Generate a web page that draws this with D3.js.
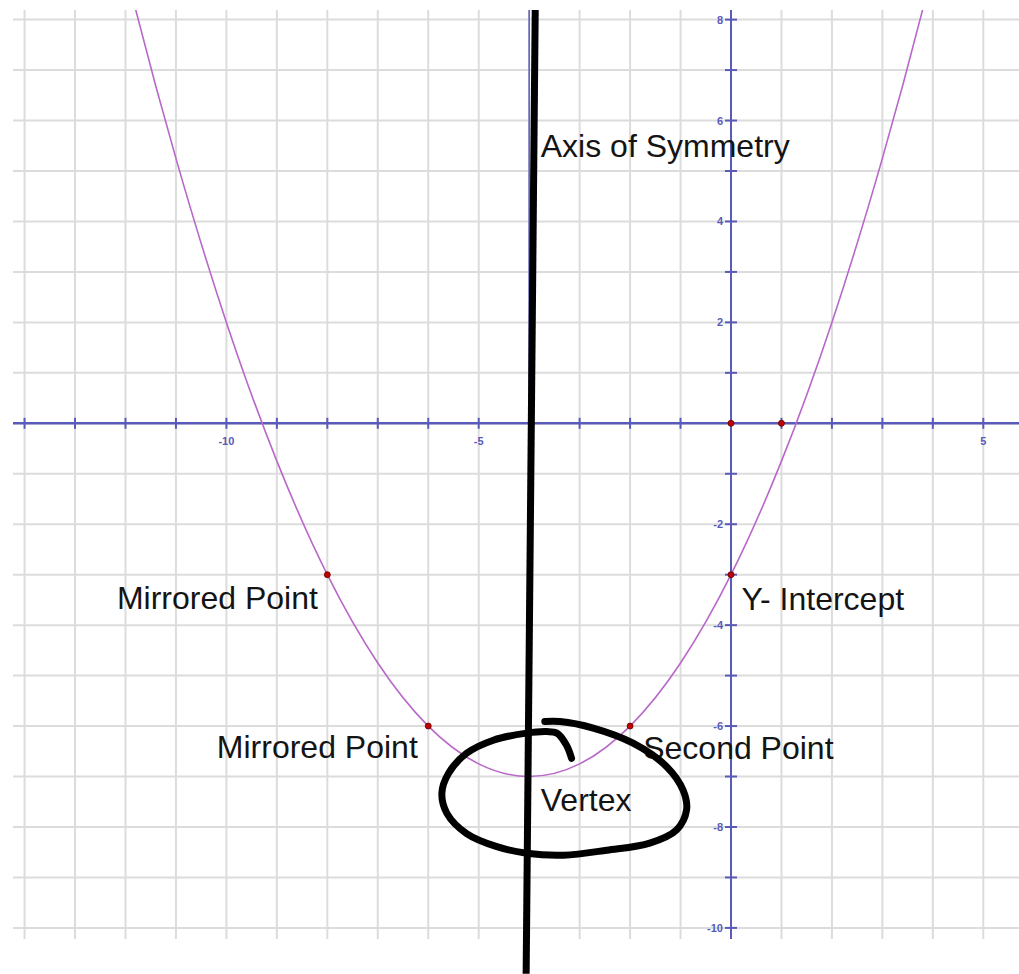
<!DOCTYPE html>
<html lang="en">
  <head>
    <meta charset="UTF-8">
    <script src="https://d3js.org/d3.v7.min.js"></script>
    <style>
      html, body {
        margin: 0;
        padding: 0;
        background: #fff;
      }
      #graph {
        display: block;
      }
    </style>
  </head>
  <body>
    <svg id="graph" width="1019" height="974"></svg>

    <script>
      //
      // Values (graph units).
      //
      const curveX = [-13, -12, -11, -10, -9, -8, -7, -6, -5, -4, -3, -2, -1, 0, 1, 2, 3, 4, 5];
      const curveY = [13.25, 9, 5.25, 2, -0.75, -3, -4.75, -6, -6.75, -7, -6.75, -6, -4.75, -3, -0.75, 2, 5.25, 9, 13.25];

      const dotX = [0, 1, -8, -6, -2, 0];
      const dotY = [0, 0, -3, -6, -6, -3];

      const xTickLabels = [-10, -5, 5];
      const yTickLabels = [8, 6, 4, 2, -2, -4, -6, -8, -10];

      const symmetryX = -4;

      const labelText = ['Axis of Symmetry', 'Mirrored Point', 'Y- Intercept', 'Mirrored Point', 'Second Point', 'Vertex'];
      const labelX = [-3.77, -12.17, 0.21, -10.19, -1.74, -3.77];
      const labelY = [5.28, -3.68, -3.70, -6.63, -6.66, -7.68];

      // hand drawn marker strokes
      const penLineX = [-3.88, -4.06];
      const penLineY = [8.19, -10.91];
      const penLoopX = [-3.69, -3.39, -2.73, -1.94, -1.27, -0.95, -0.88, -1.08, -1.61, -2.46, -3.32, -4.05,
                        -4.64, -5.24, -5.63, -5.73, -5.60, -5.24, -4.71, -4.05, -3.65, -3.45, -3.26, -3.16];
      const penLoopY = [-5.91, -5.91, -6.04, -6.34, -6.81, -7.27, -7.66, -8.06, -8.32, -8.46, -8.56, -8.52,
                        -8.39, -8.13, -7.73, -7.33, -6.94, -6.54, -6.28, -6.14, -6.11, -6.14, -6.38, -6.64];

      //
      // Layout.
      //
      const unit = 50.46;
      const originX = 731;
      const originY = 423.3;
      const view = { left: 13, right: 1019, top: 10, bottom: 939 };

      const x = d3.scaleLinear()
        .domain([-14, 5])
        .range([originX - 14 * unit, originX + 5 * unit]);
      const y = d3.scaleLinear()
        .domain([-10, 8])
        .range([originY + 10 * unit, originY - 8 * unit]);

      const svg = d3.select('#graph');

      svg.append('defs')
        .append('clipPath')
        .attr('id', 'view')
        .append('rect')
        .attr('x', view.left)
        .attr('y', view.top)
        .attr('width', view.right - view.left)
        .attr('height', view.bottom - view.top);

      const plot = svg.append('g').attr('clip-path', 'url(#view)');

      // grid
      const gridX = d3.range(-14, 7);
      const gridY = d3.range(-10, 9);

      plot.selectAll('line.gx')
        .data(gridX)
        .enter()
        .append('line')
        .attr('class', 'gx')
        .attr('x1', d => x(d))
        .attr('x2', d => x(d))
        .attr('y1', view.top)
        .attr('y2', view.bottom)
        .attr('stroke', '#dcdcdc')
        .attr('stroke-width', 2);

      plot.selectAll('line.gy')
        .data(gridY)
        .enter()
        .append('line')
        .attr('class', 'gy')
        .attr('x1', view.left)
        .attr('x2', view.right)
        .attr('y1', d => y(d))
        .attr('y2', d => y(d))
        .attr('stroke', '#dcdcdc')
        .attr('stroke-width', 2);

      // axes
      const axisColor = '#5a5ab8';

      plot.append('line')
        .attr('x1', view.left)
        .attr('x2', view.right)
        .attr('y1', y(0))
        .attr('y2', y(0))
        .attr('stroke', axisColor)
        .attr('stroke-width', 2.5);

      plot.append('line')
        .attr('x1', x(0))
        .attr('x2', x(0))
        .attr('y1', view.top)
        .attr('y2', view.bottom)
        .attr('stroke', axisColor)
        .attr('stroke-width', 2);

      plot.selectAll('line.tx')
        .data(gridX.filter(d => d !== 0))
        .enter()
        .append('line')
        .attr('class', 'tx')
        .attr('x1', d => x(d))
        .attr('x2', d => x(d))
        .attr('y1', y(0) - 5.5)
        .attr('y2', y(0) + 5.5)
        .attr('stroke', axisColor)
        .attr('stroke-width', 2);

      plot.selectAll('line.ty')
        .data(gridY.filter(d => d !== 0))
        .enter()
        .append('line')
        .attr('class', 'ty')
        .attr('x1', x(0) - 6)
        .attr('x2', x(0) + 6)
        .attr('y1', d => y(d))
        .attr('y2', d => y(d))
        .attr('stroke', axisColor)
        .attr('stroke-width', 2);

      svg.selectAll('text.lx')
        .data(xTickLabels)
        .enter()
        .append('text')
        .attr('class', 'lx')
        .attr('x', d => x(d))
        .attr('y', y(0) + 22)
        .attr('text-anchor', 'middle')
        .attr('font-family', 'Liberation Sans, Arial, sans-serif')
        .attr('font-size', 11)
        .attr('font-weight', 'bold')
        .attr('fill', '#5a5ab8')
        .text(d => d);

      svg.selectAll('text.ly')
        .data(yTickLabels)
        .enter()
        .append('text')
        .attr('class', 'ly')
        .attr('x', x(0) - 8)
        .attr('y', d => y(d) + 4)
        .attr('text-anchor', 'end')
        .attr('font-family', 'Liberation Sans, Arial, sans-serif')
        .attr('font-size', 11)
        .attr('font-weight', 'bold')
        .attr('fill', '#5a5ab8')
        .text(d => d);

      // line of symmetry from the plotter
      plot.append('line')
        .attr('x1', x(symmetryX))
        .attr('x2', x(symmetryX))
        .attr('y1', view.top)
        .attr('y2', view.bottom)
        .attr('stroke', axisColor)
        .attr('stroke-width', 1.5);

      // parabola
      const curveData = curveX.map((d, i) => ({ x: d, y: curveY[i] }));
      plot.append('path')
        .datum(curveData)
        .attr('d', d3.line().x(d => x(d.x)).y(d => y(d.y)).curve(d3.curveNatural))
        .attr('fill', 'none')
        .attr('stroke', '#b868c8')
        .attr('stroke-width', 1.6);

      // points
      const dotData = dotX.map((d, i) => ({ x: d, y: dotY[i] }));
      plot.selectAll('circle')
        .data(dotData)
        .enter()
        .append('circle')
        .attr('cx', d => x(d.x))
        .attr('cy', d => y(d.y))
        .attr('r', 3)
        .attr('fill', '#c40000')
        .attr('stroke', '#600000')
        .attr('stroke-width', 0.8);

      // labels
      svg.selectAll('text.note')
        .data(labelText)
        .enter()
        .append('text')
        .attr('class', 'note')
        .attr('x', (d, i) => x(labelX[i]))
        .attr('y', (d, i) => y(labelY[i]))
        .attr('font-family', 'Liberation Sans, Arial, sans-serif')
        .attr('font-size', 32)
        .attr('fill', '#141414')
        .text(d => d);

      // hand drawn marks
      const pen = d3.line().x(d => x(d.x)).y(d => y(d.y));

      svg.append('path')
        .datum(penLineX.map((d, i) => ({ x: d, y: penLineY[i] })))
        .attr('d', pen)
        .attr('fill', 'none')
        .attr('stroke', '#000')
        .attr('stroke-width', 7);

      svg.append('path')
        .datum(penLoopX.map((d, i) => ({ x: d, y: penLoopY[i] })))
        .attr('d', pen.curve(d3.curveCatmullRom))
        .attr('fill', 'none')
        .attr('stroke', '#000')
        .attr('stroke-width', 7)
        .attr('stroke-linecap', 'round')
        .attr('stroke-linejoin', 'round');
    </script>
  </body>
</html>
